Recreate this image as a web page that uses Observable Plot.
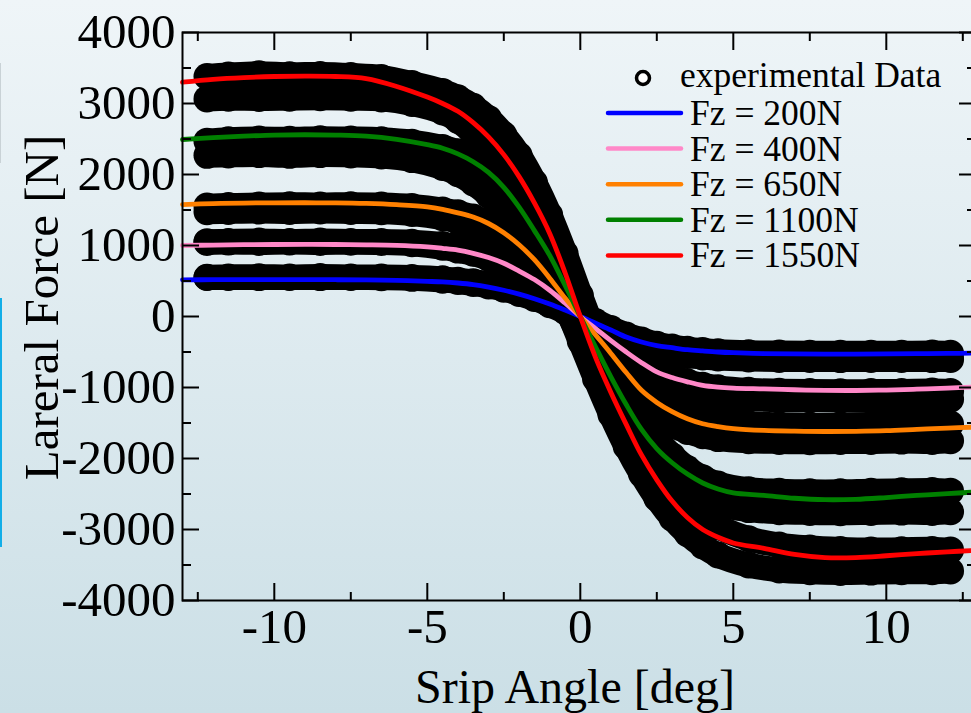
<!DOCTYPE html>
<html><head><meta charset="utf-8">
<script src="https://cdn.jsdelivr.net/npm/d3@7"></script>
<script src="https://cdn.jsdelivr.net/npm/@observablehq/plot@0.6"></script>
<style>
html,body{margin:0;padding:0;}
body{width:971px;height:713px;overflow:hidden;background:linear-gradient(to bottom,#eff5f8 0%,#cbdfe6 100%);}
#wrap{position:relative;width:971px;height:713px;}
#chart{position:absolute;left:0;top:0;}
#legend{position:absolute;left:0;top:0;pointer-events:none;}
.deco1{position:absolute;left:0;top:298px;width:2px;height:249px;background:#12aee8;}
.deco2{position:absolute;left:0;top:63px;width:1px;height:100px;background:#c9d2d6;}
</style></head>
<body>
<div id="wrap"><div class="deco2"></div><div class="deco1"></div><div id="chart"></div><svg id="legend" width="971" height="713"></svg></div>
<script>
// ---- data ----
const loads = ["Fz = 200N", "Fz = 400N", "Fz = 650N", "Fz = 1100N", "Fz = 1550N"];
const lineColors = ["#0000ff", "#ff88c8", "#ff8000", "#008000", "#ff0000"];
const expLabel = "experimental Data";
const xTitle = "Srip Angle [deg]";
const yTitle = "Lareral Force [N]";

const xMajorTicks = [-10, -5, 0, 5, 10];
const xMinorTicks = [-12.5, -7.5, -2.5, 2.5, 7.5, 12.5];
const yMajorTicks = [-4000, -3000, -2000, -1000, 0, 1000, 2000, 3000, 4000];
const yMinorTicks = [-3500, -2500, -1500, -500, 500, 1500, 2500, 3500];

// fitted curves
const fitAngles = [-13, -12, -11, -10, -9, -8, -7, -6, -5, -4.5, -4, -3.5, -3, -2.5, -2, -1.5, -1, -0.5, 0, 0.5, 1, 1.5, 2, 2.5, 3, 3.5, 4, 4.5, 5, 6, 7, 8, 9, 10, 11, 12, 12.9];
const fit200 = [517, 518, 519, 519, 519, 518, 515, 508, 495, 487, 472, 450, 415, 370, 315, 250, 175, 90, 0, -95, -190, -290, -360, -410, -440, -468, -485, -500, -510, -522, -527, -529, -529, -527, -524, -520, -516];
const fit400 = [1000, 1006, 1011, 1014, 1015, 1014, 1010, 1002, 980, 960, 935, 890, 830, 750, 640, 520, 370, 190, 0, -170, -340, -500, -650, -780, -860, -920, -970, -995, -1008, -1020, -1032, -1041, -1042, -1036, -1024, -1008, -994];
const fit650 = [1577, 1590, 1598, 1601, 1602, 1600, 1592, 1575, 1545, 1510, 1460, 1400, 1310, 1180, 1010, 800, 540, 260, 0, -260, -520, -790, -1040, -1210, -1340, -1440, -1510, -1550, -1578, -1604, -1615, -1620, -1617, -1608, -1590, -1572, -1558];
const fit1100 = [2493, 2520, 2540, 2555, 2560, 2555, 2540, 2495, 2420, 2370, 2290, 2180, 2030, 1820, 1540, 1210, 860, 440, 0, -430, -850, -1240, -1590, -1860, -2060, -2220, -2345, -2430, -2485, -2520, -2560, -2580, -2575, -2550, -2520, -2495, -2472];
const fit1550 = [3300, 3340, 3365, 3380, 3385, 3380, 3350, 3240, 3090, 3000, 2890, 2730, 2530, 2280, 1970, 1600, 1170, 620, 0, -580, -1070, -1520, -1950, -2300, -2600, -2830, -3000, -3110, -3190, -3265, -3350, -3395, -3395, -3370, -3340, -3315, -3294];

// experimental data (two measurement traces per load)
const dataAngles = [-12.2, -11.5, -10.5, -9.5, -8.5, -7.5, -6.5, -5.5, -4.5, -4, -3.5, -3, -2.5, -2, -1.5, -1, -0.5, 0, 0.5, 1, 1.5, 2, 2.5, 3, 3.5, 4, 4.5, 5.5, 6.5, 7.5, 8.5, 9.5, 10.5, 11.5, 12.1];
const exp200Upper = [553, 557, 561, 556, 562, 557, 555, 548, 530, 512, 490, 460, 420, 370, 300, 220, 130, 30, -70, -170, -260, -330, -390, -430, -460, -480, -495, -510, -515, -518, -517, -516, -518, -515, -518];
const exp200Lower = [549, 550, 548, 551, 548, 550, 546, 537, 512, 492, 465, 430, 385, 325, 255, 165, 70, -40, -150, -260, -350, -420, -480, -520, -550, -570, -585, -598, -604, -606, -607, -605, -606, -607, -604];
const exp400Upper = [1054, 1058, 1062, 1056, 1062, 1058, 1056, 1045, 1015, 990, 950, 890, 810, 710, 580, 420, 240, 50, -140, -320, -490, -630, -750, -850, -920, -970, -1005, -1040, -1052, -1058, -1060, -1058, -1055, -1050, -1055];
const exp400Lower = [1044, 1048, 1044, 1049, 1044, 1046, 1042, 1024, 975, 935, 890, 820, 730, 620, 480, 310, 120, -80, -280, -470, -640, -790, -910, -1000, -1070, -1110, -1140, -1160, -1170, -1172, -1170, -1168, -1170, -1172, -1165];
const exp650Upper = [1555, 1565, 1570, 1575, 1570, 1575, 1570, 1550, 1500, 1460, 1400, 1320, 1200, 1050, 860, 630, 370, 90, -190, -460, -710, -930, -1110, -1250, -1350, -1420, -1470, -1510, -1525, -1530, -1525, -1520, -1515, -1510, -1515];
const exp650Lower = [1475, 1480, 1485, 1480, 1485, 1480, 1475, 1450, 1390, 1340, 1270, 1170, 1030, 860, 650, 400, 120, -170, -460, -740, -1000, -1220, -1400, -1530, -1620, -1680, -1720, -1750, -1760, -1765, -1760, -1760, -1755, -1760, -1750];
const exp1100Upper = [2470, 2490, 2500, 2495, 2505, 2500, 2490, 2455, 2380, 2320, 2230, 2100, 1920, 1680, 1370, 1000, 560, 100, -330, -740, -1110, -1450, -1730, -1960, -2140, -2270, -2360, -2440, -2460, -2470, -2470, -2460, -2455, -2450, -2460];
const exp1100Lower = [2270, 2275, 2280, 2270, 2280, 2275, 2260, 2210, 2100, 2010, 1880, 1710, 1490, 1220, 900, 530, 130, -290, -700, -1080, -1440, -1760, -2030, -2250, -2420, -2550, -2640, -2720, -2750, -2760, -2765, -2760, -2755, -2760, -2750];
const exp1550Upper = [3380, 3400, 3420, 3405, 3410, 3395, 3365, 3280, 3170, 3080, 2960, 2790, 2560, 2270, 1890, 1430, 890, 300, -260, -780, -1260, -1700, -2070, -2380, -2620, -2820, -2960, -3130, -3220, -3260, -3280, -3290, -3285, -3280, -3290];
const exp1550Lower = [3065, 3075, 3070, 3075, 3080, 3075, 3065, 3000, 2880, 2760, 2580, 2330, 2020, 1650, 1200, 700, 180, -350, -880, -1380, -1830, -2220, -2560, -2840, -3060, -3230, -3360, -3500, -3570, -3595, -3605, -3600, -3595, -3595, -3585];

// ---- tables ----
const fitSeries = [fit200, fit400, fit650, fit1100, fit1550];
const fitRows = [];
fitSeries.forEach((vals, k) => vals.forEach((v, i) => fitRows.push({angle: fitAngles[i], force: v, load: loads[k]})));

const expSeries = [[exp200Upper, exp200Lower], [exp400Upper, exp400Lower], [exp650Upper, exp650Lower], [exp1100Upper, exp1100Lower], [exp1550Upper, exp1550Lower]];
const expRows = [];
expSeries.forEach((pair, k) => pair.forEach((vals, t) => vals.forEach((v, i) => expRows.push({angle: dataAngles[i], force: v, trace: loads[k] + "-" + t}))));

const font = "'Liberation Serif', 'Times New Roman', serif";
const fmt = d => String(d);

const chart = Plot.plot({
  width: 971,
  height: 713,
  marginLeft: 182,
  marginTop: 32,
  marginBottom: 113,
  marginRight: -4,
  style: {background: "transparent", fontFamily: font, color: "black", overflow: "visible"},
  x: {domain: [-13, 12.915], inset: 0},
  y: {domain: [-4000, 4000], inset: 0},
  color: {domain: loads, range: lineColors},
  marks: [
    Plot.line(expRows, {x: "angle", y: "force", z: "trace", stroke: "black", strokeWidth: 25, strokeLinecap: "round", strokeLinejoin: "round", curve: "catmull-rom"}),
    Plot.dot(expRows, {x: "angle", y: "force", r: 13.5, fill: "black"}),
    Plot.line(fitRows, {x: "angle", y: "force", z: "load", stroke: "load", strokeWidth: 4.8, curve: "catmull-rom"}),
    Plot.frame({stroke: "black", strokeWidth: 2}),
    // inward ticks
    Plot.axisX(xMajorTicks, {anchor: "bottom", tickSize: 17, dy: -17, strokeWidth: 2, fill: "none", label: null}),
    Plot.axisX(xMinorTicks, {anchor: "bottom", tickSize: 8, dy: -8, strokeWidth: 2, fill: "none", label: null}),
    Plot.axisX(xMajorTicks, {anchor: "top", tickSize: 17, dy: 17, strokeWidth: 2, fill: "none", label: null}),
    Plot.axisX(xMinorTicks, {anchor: "top", tickSize: 8, dy: 8, strokeWidth: 2, fill: "none", label: null}),
    Plot.axisY(yMajorTicks, {anchor: "left", tickSize: 17, dx: 17, strokeWidth: 2, fill: "none", label: null}),
    Plot.axisY(yMinorTicks, {anchor: "left", tickSize: 9, dx: 9, strokeWidth: 2, fill: "none", label: null}),
    Plot.axisY(yMajorTicks, {anchor: "right", tickSize: 17, dx: -17, strokeWidth: 2, fill: "none", label: null}),
    Plot.axisY(yMinorTicks, {anchor: "right", tickSize: 9, dx: -9, strokeWidth: 2, fill: "none", label: null}),
    // tick labels
    Plot.axisX(xMajorTicks, {anchor: "bottom", tickSize: 0, tickPadding: 8, fontSize: 49, tickFormat: fmt, label: null, fontFamily: font}),
    Plot.axisY(yMajorTicks, {anchor: "left", tickSize: 0, tickPadding: 7, fontSize: 49, tickFormat: fmt, label: null, fontFamily: font}),
    // axis titles
    Plot.text([xTitle], {frameAnchor: "bottom", dx: -4, dy: 87, fontSize: 48, fontFamily: font, lineAnchor: "middle", textAnchor: "middle"}),
    Plot.text([yTitle], {frameAnchor: "left", rotate: -90, dx: -140, dy: -9, fontSize: 49, fontFamily: font, lineAnchor: "middle", textAnchor: "middle"})
  ]
});
document.getElementById("chart").appendChild(chart);

// ---- legend ----
const leg = d3.select("#legend");
leg.append("circle").attr("cx", 643).attr("cy", 78).attr("r", 6.5)
  .attr("fill", "white").attr("stroke", "black").attr("stroke-width", 3.5);
leg.append("text").attr("x", 680).attr("y", 87).text(expLabel)
  .attr("font-family", font).attr("font-size", 35.5).attr("fill", "black");
loads.forEach((name, i) => {
  const base = 125 + i * 35.6;
  leg.append("line").attr("x1", 608).attr("x2", 681).attr("y1", base - 12).attr("y2", base - 12)
    .attr("stroke", lineColors[i]).attr("stroke-width", 4.5).attr("stroke-linecap", "round");
  leg.append("text").attr("x", 690).attr("y", base).text(name)
    .attr("font-family", font).attr("font-size", 35.5).attr("fill", "black");
});
</script>
</body></html>
